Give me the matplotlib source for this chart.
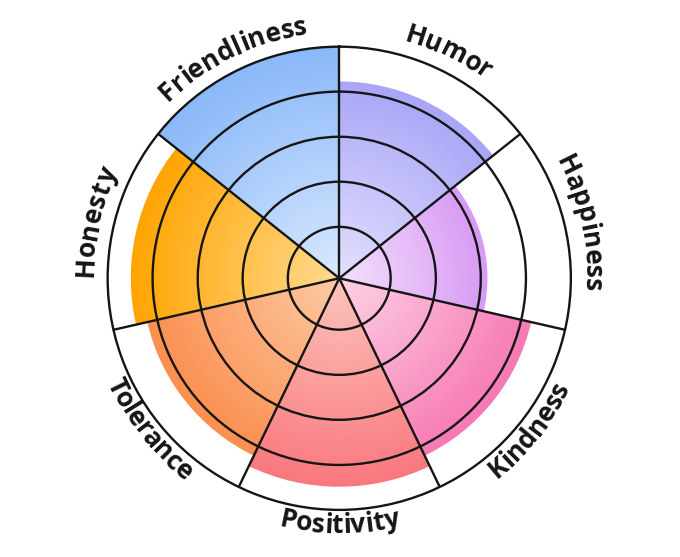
import numpy as np
import matplotlib.pyplot as plt
from matplotlib.colors import to_rgb

# sectors go clockwise from 12 o'clock
labels = ["Humor", "Happiness", "Kindness", "Positivity", "Tolerance", "Honesty", "Friendliness"]
values = [85, 64, 85, 90, 85, 90, 100]
outer_colors = ["#a9a6f7", "#d89af3", "#f67ab4", "#f9787e", "#fb8f50", "#ffa503", "#8ab8f9"]
inner_colors = ["#e2e0fd", "#f3e0fd", "#fdd2e4", "#fdc4bc", "#fdcaa4", "#ffda90", "#d9e8fe"]
rings = [22.2, 41.7, 61.1, 80.6]

n = len(labels)
width = 2 * np.pi / n
centers = (np.arange(n) + 0.5) * width

fig = plt.figure(figsize=(6.8, 5.57), dpi=100)
ax = fig.add_axes([0.1583, 0.0846, 0.6812, 0.8316], projection="polar")
ax.set_theta_zero_location("N")
ax.set_theta_direction(-1)

# radial gradient: stack thin bars from pale centre to full colour
steps = 80
for th, v, c0, c1 in zip(centers, values, inner_colors, outer_colors):
    a = np.array(to_rgb(c0))
    b = np.array(to_rgb(c1))
    edges = np.linspace(0, v, steps + 1)
    for k in range(steps):
        t = k / (steps - 1)
        h = edges[k + 1] - edges[k]
        top_h = h if k == steps - 1 else h * 1.6
        ax.bar(th, top_h, width=width, bottom=edges[k], color=a + (b - a) * t,
               linewidth=0, align="center")

ax.set_ylim(0, 100)
ax.set_yticks(rings)
ax.set_xticks(np.arange(n) * width)
ax.set_xticklabels([])
ax.set_yticklabels([])
ax.grid(True, color="#151515", linewidth=1.7)
ax.set_axisbelow(False)
ax.spines["polar"].set_color("#151515")
ax.spines["polar"].set_linewidth(1.7)
ax.tick_params(length=0)

# curved labels, one character at a time
fig.canvas.draw()
renderer = fig.canvas.get_renderer()
px_per_unit = ax.get_window_extent(renderer).width / 2 / 100
font = dict(fontsize=19, fontweight="bold", family="Open Sans", color="#151515")


def text_width(s):
    if s == "":
        return 0.0
    t = fig.text(0, 0, s, **font)
    w = t.get_window_extent(renderer).width
    t.remove()
    return w


for lab, th in zip(labels, centers):
    deg = np.degrees(th)
    bottom = 90 < deg < 270
    r_px = 255 if bottom else 246
    total = text_width(lab)
    for j, ch in enumerate(lab):
        s = (text_width(lab[:j]) + text_width(lab[:j + 1])) / 2 - total / 2
        d = s / r_px
        tc = th - d if bottom else th + d
        rot = 180 - np.degrees(tc) if bottom else -np.degrees(tc)
        ax.text(tc, r_px / px_per_unit, ch, rotation=rot, rotation_mode="anchor",
                ha="center", va="baseline", **font)

fig.savefig("out.png", dpi=100, facecolor="white")
